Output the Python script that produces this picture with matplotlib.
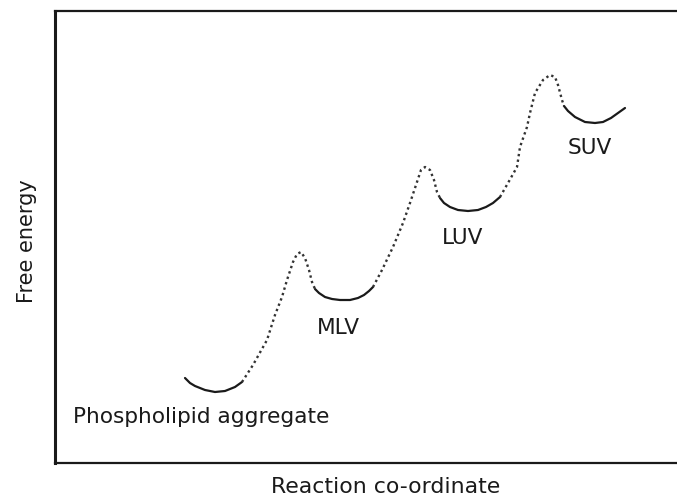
import matplotlib
matplotlib.use("Agg")
import matplotlib.pyplot as plt

# curve (x along reaction co-ordinate, y = free energy)
# wells are drawn solid, barriers dotted
well_aggregate_x = [130, 135, 140, 150, 160, 170, 180, 187]
well_aggregate_y = [85, 80, 77, 73, 71, 72, 76, 81]

barrier1_x = [187, 198, 212, 220, 227, 232, 238, 242, 246, 250, 254, 257, 260]
barrier1_y = [81, 98, 123, 148, 166, 183, 201, 209, 211, 205, 193, 181, 174]

well_mlv_x = [260, 264, 270, 277, 285, 295, 303, 309, 314, 318]
well_mlv_y = [174, 170, 166, 164, 163, 163, 165, 168, 172, 176]

barrier2_x = [318, 327, 338, 348, 355, 362, 366, 370, 375, 379, 382, 385]
barrier2_y = [176, 193, 216, 240, 260, 281, 293, 296, 293, 283, 271, 265]

well_luv_x = [385, 389, 395, 403, 413, 423, 431, 438, 445]
well_luv_y = [265, 260, 256, 253, 252, 253, 256, 260, 266]

barrier3_x = [445, 453, 462, 465, 472, 475, 480, 488, 495, 500, 503, 507, 509]
barrier3_y = [266, 280, 296, 316, 336, 350, 370, 383, 388, 386, 378, 363, 357]

well_suv_x = [509, 513, 520, 530, 540, 548, 556, 563, 570]
well_suv_y = [357, 352, 346, 341, 340, 341, 345, 350, 355]

labels = ["Phospholipid aggregate", "MLV", "LUV", "SUV"]
label_x = [18, 283, 408, 535]
label_y = [46, 135, 225, 315]

fig = plt.figure(figsize=(6.77, 4.99), dpi=100)
ax = fig.add_axes([55 / 677, 1 - 463 / 499, 1 - 55 / 677, 452 / 499])

ink = "#1a1a1a"
for wx, wy in [(well_aggregate_x, well_aggregate_y), (well_mlv_x, well_mlv_y),
               (well_luv_x, well_luv_y), (well_suv_x, well_suv_y)]:
    ax.plot(wx, wy, color=ink, lw=1.6, solid_capstyle="round",
            solid_joinstyle="round")
for bx, by in [(barrier1_x, barrier1_y), (barrier2_x, barrier2_y),
               (barrier3_x, barrier3_y)]:
    ax.plot(bx, by, color="#333333", lw=1.7, linestyle=(0, (1, 1.4)))

for i, lab in enumerate(labels):
    ha = "left" if i == 0 else "center"
    ax.text(label_x[i], label_y[i], lab, ha=ha, va="center", fontsize=15.6,
            color=ink)

ax.set_xlim(0, 622)
ax.set_ylim(0, 452)
ax.set_xticks([])
ax.set_yticks([])
ax.spines["right"].set_visible(False)
ax.spines["left"].set_linewidth(2.2)
ax.spines["bottom"].set_linewidth(1.6)
ax.spines["top"].set_linewidth(1.6)
for s in ax.spines.values():
    s.set_color(ink)

fig.text(386 / 677, 1 - 487 / 499, "Reaction co-ordinate", ha="center",
         va="center", fontsize=15.8, color=ink)
fig.text(27 / 677, 1 - 241 / 499, "Free energy", ha="center", va="center",
         rotation=90, fontsize=15, color=ink)

fig.savefig("out.png", dpi=100)
